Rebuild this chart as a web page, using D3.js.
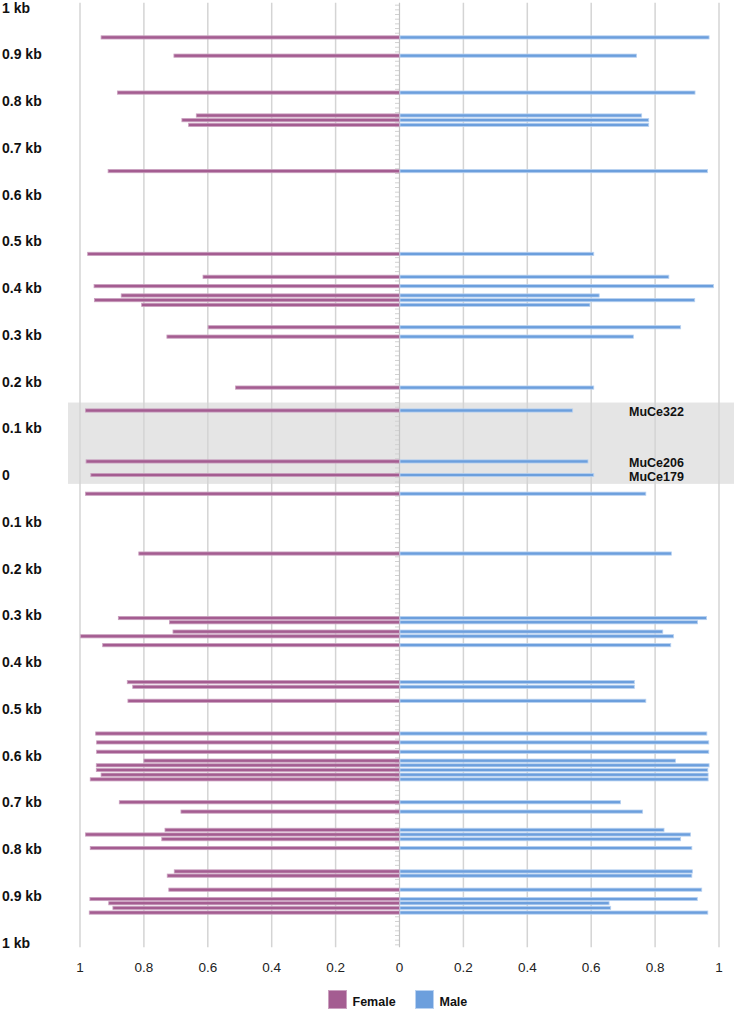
<!DOCTYPE html>
<html>
<head>
<meta charset="utf-8">
<script src="https://cdn.jsdelivr.net/npm/d3@7"></script>
<style>
	body { margin: 0; background: #fff; }
	svg { display: block; font-family: 'Liberation Sans', Arial, sans-serif; }
</style>
</head>
<body>
<div id="chart"></div>
<script>
/*

*	Data (position in kb, top half upstream = negative)

*/
var positions = [
	-0.936, -0.897, -0.818, -0.769, -0.759, -0.749, -0.650,
	-0.473, -0.424, -0.404, -0.384, -0.374, -0.364, -0.316, -0.296,
	-0.187, -0.138, -0.029, 0, 0.040,
	0.168, 0.306, 0.315, 0.335, 0.345, 0.364, 0.443, 0.453, 0.483,
	0.553, 0.572, 0.592, 0.611, 0.621, 0.631, 0.641, 0.651, 0.700, 0.720,
	0.759, 0.769, 0.779, 0.798, 0.848, 0.857, 0.887, 0.907, 0.916, 0.926, 0.936
];

var female = [
	0.934, 0.706, 0.883, 0.636, 0.681, 0.660, 0.912,
	0.976, 0.615, 0.956, 0.871, 0.955, 0.807, 0.599, 0.728,
	0.513, 0.983, 0.981, 0.966, 0.983,
	0.816, 0.880, 0.720, 0.709, 0.998, 0.929, 0.852, 0.835, 0.850,
	0.951, 0.948, 0.948, 0.800, 0.949, 0.949, 0.934, 0.968, 0.877, 0.684,
	0.734, 0.983, 0.744, 0.968, 0.705, 0.727, 0.722, 0.969, 0.910, 0.897, 0.971
];

var male = [
	0.969, 0.742, 0.925, 0.758, 0.780, 0.780, 0.964,
	0.608, 0.843, 0.983, 0.625, 0.924, 0.596, 0.880, 0.732,
	0.608, 0.542, 0.590, 0.608, 0.771,
	0.851, 0.961, 0.933, 0.824, 0.858, 0.849, 0.735, 0.735, 0.771,
	0.962, 0.968, 0.968, 0.864, 0.969, 0.965, 0.966, 0.966, 0.692, 0.761,
	0.828, 0.911, 0.880, 0.915, 0.917, 0.915, 0.946, 0.932, 0.656, 0.661, 0.965
];

var yTicks = [-1, -0.9, -0.8, -0.7, -0.6, -0.5, -0.4, -0.3, -0.2, -0.1, 0,
	0.1, 0.2, 0.3, 0.4, 0.5, 0.6, 0.7, 0.8, 0.9, 1];
var xTicks = [-1, -0.8, -0.6, -0.4, -0.2, 0, 0.2, 0.4, 0.6, 0.8, 1];

var highlight = [-0.155, 0.019];
var markers = [
	{ name: 'MuCe322', pos: -0.138 },
	{ name: 'MuCe206', pos: -0.029 },
	{ name: 'MuCe179', pos: 0 }
];

var series = ['Female', 'Male'];
var colors = { Female: '#a45d91', Male: '#6c9fdd' };
var edges = { Female: '#caa0bf', Male: '#b9d2f1' };

/*

*	Scales

*/
var W = 736, H = 1011;
var x = d3.scaleLinear().domain([-1, 1]).range([80, 719]);
var y = d3.scaleLinear().domain([-1, 1]).range([7.5, 942.5]);

var svg = d3.select('#chart').append('svg')
	.attr('width', W)
	.attr('height', H);

// grey box behind the three markers
svg.append('rect')
	.attr('x', 68)
	.attr('width', 666)
	.attr('y', y(highlight[0]))
	.attr('height', y(highlight[1]) - y(highlight[0]))
	.attr('fill', '#e5e5e5');

// vertical gridlines
svg.append('g')
	.selectAll('line')
	.data(xTicks.filter(function (d) { return d !== 0; }))
	.join('line')
	.attr('x1', function (d) { return x(d); })
	.attr('x2', function (d) { return x(d); })
	.attr('y1', y(-1.01))
	.attr('y2', y(1.01))
	.attr('stroke', '#d4d4d4')
	.attr('stroke-width', 1.5);

// centre axis with a tick for every 10 bp slot
var slotTicks = d3.range(-100, 102).map(function (i) { return (i - 0.5) / 100; });
svg.append('g')
	.selectAll('line')
	.data(slotTicks)
	.join('line')
	.attr('x1', x(0) - 4.5)
	.attr('x2', x(0))
	.attr('y1', function (d) { return y(d); })
	.attr('y2', function (d) { return y(d); })
	.attr('stroke', '#d2d2d2')
	.attr('stroke-width', 1);

svg.append('line')
	.attr('x1', x(0))
	.attr('x2', x(0))
	.attr('y1', y(-1.01))
	.attr('y2', y(1.01))
	.attr('stroke', '#c4c4c4')
	.attr('stroke-width', 1.2);

/*

*	Bars

*/
var rows = positions.map(function (p, i) {
	return { pos: p, Female: female[i], Male: male[i] };
});

var barH = 3.2;

svg.append('g')
	.selectAll('rect')
	.data(rows)
	.join('rect')
	.attr('x', function (d) { return x(-d.Female); })
	.attr('width', function (d) { return x(0) - x(-d.Female); })
	.attr('y', function (d) { return y(d.pos) - barH / 2; })
	.attr('height', barH)
	.attr('fill', colors.Female)
	.attr('stroke', edges.Female)
	.attr('stroke-width', 0.8);

svg.append('g')
	.selectAll('rect')
	.data(rows)
	.join('rect')
	.attr('x', x(0) + 0.5)
	.attr('width', function (d) { return x(d.Male) - x(0) - 0.5; })
	.attr('y', function (d) { return y(d.pos) - barH / 2; })
	.attr('height', barH)
	.attr('fill', colors.Male)
	.attr('stroke', edges.Male)
	.attr('stroke-width', 0.8);

/*

*	Labels

*/
svg.append('g')
	.selectAll('text')
	.data(yTicks)
	.join('text')
	.attr('x', 2)
	.attr('y', function (d) { return y(d); })
	.attr('dy', '0.36em')
	.attr('font-size', 14)
	.attr('font-weight', 'bold')
	.attr('fill', '#111')
	.text(function (d) { return d === 0 ? '0' : d3.format('.1~f')(Math.abs(d)) + ' kb'; });

svg.append('g')
	.selectAll('text')
	.data(xTicks)
	.join('text')
	.attr('x', function (d) { return x(d); })
	.attr('y', 967)
	.attr('dy', '0.36em')
	.attr('text-anchor', 'middle')
	.attr('font-size', 13.5)
	.attr('fill', '#222')
	.text(function (d) { return d3.format('~g')(Math.abs(d)); });

svg.append('g')
	.selectAll('text')
	.data(markers)
	.join('text')
	.attr('x', 629)
	.attr('y', function (d) { return y(d.pos) + 1; })
	.attr('dy', '0.36em')
	.attr('font-size', 12.5)
	.attr('font-weight', 'bold')
	.attr('fill', '#111')
	.text(function (d) { return d.name; });

/*

*	Legend

*/
var legend = svg.append('g')
	.selectAll('g')
	.data(series)
	.join('g')
	.attr('transform', function (d, i) { return 'translate(' + [328.5, 415.5][i] + ',990.5)'; });

legend.append('rect')
	.attr('width', 18)
	.attr('height', 18)
	.attr('fill', function (d) { return colors[d]; })
	.attr('stroke', function (d) { return edges[d]; })
	.attr('stroke-width', 1);

legend.append('text')
	.attr('x', 24)
	.attr('y', 11)
	.attr('dy', '0.36em')
	.attr('font-size', 12.5)
	.attr('font-weight', 'bold')
	.attr('fill', '#111')
	.text(function (d) { return d; });
</script>
</body>
</html>
